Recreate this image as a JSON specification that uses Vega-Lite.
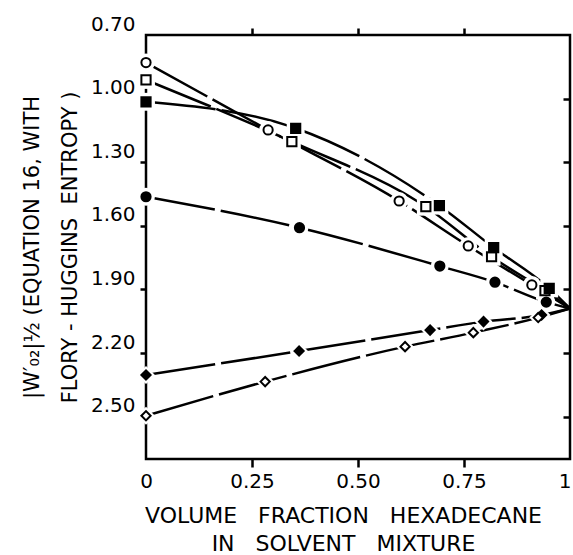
{
  "$schema": "https://vega.github.io/schema/vega-lite/v6.json",
  "width": 424,
  "height": 424,
  "autosize": {"type": "none"},
  "padding": {"left": 146, "top": 35, "right": 3, "bottom": 96},
  "background": "white",
  "config": {
    "view": {"stroke": "black", "strokeWidth": 2.5},
    "font": "DejaVu Sans",
    "axis": {"grid": false, "labelColor": "black", "tickColor": "black", "titleColor": "black", "titleFontWeight": "normal"}
  },
  "data": {
    "values": [
      {"s": "oc", "shape": "circle", "filled": "no", "m": true, "x": 0, "y": 0.83},
      {"s": "oc", "shape": "circle", "filled": "no", "m": true, "x": 0.288, "y": 1.148},
      {"s": "oc", "shape": "circle", "filled": "no", "m": true, "x": 0.597, "y": 1.483},
      {"s": "oc", "shape": "circle", "filled": "no", "m": true, "x": 0.76, "y": 1.695},
      {"s": "oc", "shape": "circle", "filled": "no", "m": true, "x": 0.91, "y": 1.879},
      {"s": "oc", "shape": "circle", "filled": "no", "m": false, "x": 1, "y": 1.99},
      {"s": "os", "shape": "square", "filled": "no", "m": true, "x": 0, "y": 0.912},
      {"s": "os", "shape": "square", "filled": "no", "m": true, "x": 0.344, "y": 1.203},
      {"s": "os", "shape": "square", "filled": "no", "m": true, "x": 0.66, "y": 1.51},
      {"s": "os", "shape": "square", "filled": "no", "m": true, "x": 0.815, "y": 1.746},
      {"s": "os", "shape": "square", "filled": "no", "m": true, "x": 0.941, "y": 1.906},
      {"s": "os", "shape": "square", "filled": "no", "m": false, "x": 1, "y": 1.99},
      {"s": "fs", "shape": "square", "filled": "yes", "m": true, "x": 0, "y": 1.015},
      {"s": "fs", "shape": "square", "filled": "yes", "m": true, "x": 0.353, "y": 1.14},
      {"s": "fs", "shape": "square", "filled": "yes", "m": true, "x": 0.692, "y": 1.505},
      {"s": "fs", "shape": "square", "filled": "yes", "m": true, "x": 0.82, "y": 1.703},
      {"s": "fs", "shape": "square", "filled": "yes", "m": true, "x": 0.951, "y": 1.895},
      {"s": "fs", "shape": "square", "filled": "yes", "m": false, "x": 1, "y": 1.99},
      {"s": "fc", "shape": "circle", "filled": "yes", "m": true, "x": 0, "y": 1.463},
      {"s": "fc", "shape": "circle", "filled": "yes", "m": true, "x": 0.362, "y": 1.609},
      {"s": "fc", "shape": "circle", "filled": "yes", "m": true, "x": 0.693, "y": 1.79},
      {"s": "fc", "shape": "circle", "filled": "yes", "m": true, "x": 0.823, "y": 1.866},
      {"s": "fc", "shape": "circle", "filled": "yes", "m": true, "x": 0.944, "y": 1.96},
      {"s": "fc", "shape": "circle", "filled": "yes", "m": false, "x": 1, "y": 1.99},
      {"s": "fd", "shape": "diamond", "filled": "yes", "m": true, "x": 0, "y": 2.304},
      {"s": "fd", "shape": "diamond", "filled": "yes", "m": true, "x": 0.361, "y": 2.191},
      {"s": "fd", "shape": "diamond", "filled": "yes", "m": true, "x": 0.67, "y": 2.092},
      {"s": "fd", "shape": "diamond", "filled": "yes", "m": true, "x": 0.796, "y": 2.052},
      {"s": "fd", "shape": "diamond", "filled": "yes", "m": true, "x": 0.933, "y": 2.021},
      {"s": "fd", "shape": "diamond", "filled": "yes", "m": false, "x": 1, "y": 1.99},
      {"s": "od", "shape": "diamond", "filled": "no", "m": true, "x": 0, "y": 2.496},
      {"s": "od", "shape": "diamond", "filled": "no", "m": true, "x": 0.281, "y": 2.335},
      {"s": "od", "shape": "diamond", "filled": "no", "m": true, "x": 0.611, "y": 2.17},
      {"s": "od", "shape": "diamond", "filled": "no", "m": true, "x": 0.772, "y": 2.104},
      {"s": "od", "shape": "diamond", "filled": "no", "m": true, "x": 0.925, "y": 2.033},
      {"s": "od", "shape": "diamond", "filled": "no", "m": false, "x": 1, "y": 1.99}
    ]
  },
  "layer": [
    {
      "mark": {"type": "line", "interpolate": "monotone", "stroke": "black", "strokeWidth": 2.5, "strokeDash": [70, 6]},
      "encoding": {
        "detail": {"field": "s", "type": "nominal"},
        "x": {
          "field": "x", "type": "quantitative",
          "scale": {"domain": [0, 1], "nice": false, "zero": false},
          "axis": {
            "orient": "bottom",
            "values": [0, 0.25, 0.5, 0.75, 1],
            "labelExpr": "datum.value == 0 ? '0' : datum.value == 1 ? '1' : format(datum.value, '.2f')",
            "domain": false,
            "tickSize": 8,
            "tickWidth": 2.5,
            "tickOpacity": {"condition": {"test": "datum.value == 0 || datum.value == 1", "value": 0}, "value": 1},
            "labelFontSize": 20,
            "labelPadding": 4,
            "labelFlush": false,
            "labelAlign": {"condition": {"test": "datum.value == 1", "value": "right"}, "value": "center"},
            "labelOffset": {"condition": {"test": "datum.value == 1", "value": 1}, "value": 0},
            "title": ["VOLUME\u00a0\u00a0\u00a0FRACTION\u00a0\u00a0\u00a0HEXADECANE", "IN\u00a0\u00a0\u00a0SOLVENT\u00a0\u00a0\u00a0MIXTURE"],
            "titleFontSize": 22,
            "titleX": 197,
            "titleY": 63,
            "titleAlign": "center",
            "titleBaseline": "alphabetic",
            "titleLineHeight": 28
          }
        },
        "y": {
          "field": "y", "type": "quantitative",
          "scale": {"domain": [0.7, 2.7], "reverse": true, "nice": false, "zero": false},
          "axis": {
            "orient": "left",
            "values": [0.7, 1.0, 1.3, 1.6, 1.9, 2.2, 2.5],
            "format": ".2f",
            "domain": false,
            "tickSize": 6,
            "tickWidth": 2.5,
            "tickOpacity": {"condition": {"test": "datum.value < 0.8", "value": 0}, "value": 1},
            "labelFontSize": 20,
            "labelOffset": -11,
            "labelPadding": 5,
            "labelFlush": false,
            "title": ["|W′₀₂|½ (EQUATION 16, WITH", "FLORY - HUGGINS\u00a0\u00a0ENTROPY )"],
            "titleFontSize": 21,
            "titleAngle": -90,
            "titleX": -114,
            "titleY": 212,
            "titleAlign": "center",
            "titleBaseline": "middle",
            "titleLineHeight": 38
          }
        }
      }
    },
    {
      "transform": [{"filter": "datum.m"}],
      "mark": {"type": "point", "filled": true, "fill": "white", "opacity": 1, "strokeWidth": 0},
      "encoding": {
        "x": {
          "field": "x", "type": "quantitative",
          "scale": {"domain": [0, 1], "nice": false, "zero": false},
          "axis": {"orient": "top", "values": [0.25, 0.5, 0.75], "labels": false, "domain": false, "tickSize": 7, "tickWidth": 2.5, "title": null}
        },
        "y": {
          "field": "y", "type": "quantitative",
          "scale": {"domain": [0.7, 2.7], "reverse": true, "nice": false, "zero": false},
          "axis": {"orient": "right", "values": [1.0, 1.3, 1.6, 1.9, 2.2, 2.5], "labels": false, "domain": false, "tickSize": -7, "tickWidth": 2.5, "title": null}
        },
        "shape": {"field": "shape", "type": "nominal", "scale": {"domain": ["circle", "square", "diamond"], "range": ["circle", "square", "diamond"]}, "legend": null},
        "size": {"field": "shape", "type": "nominal", "scale": {"domain": ["circle", "square", "diamond"], "range": [320, 320, 450]}, "legend": null}
      }
    },
    {
      "transform": [{"filter": "datum.m"}],
      "mark": {"type": "point", "filled": true, "stroke": "black", "strokeWidth": 2, "opacity": 1},
      "encoding": {
        "x": {"field": "x", "type": "quantitative", "scale": {"domain": [0, 1], "nice": false, "zero": false}, "axis": null},
        "y": {"field": "y", "type": "quantitative", "scale": {"domain": [0.7, 2.7], "reverse": true, "nice": false, "zero": false}, "axis": null},
        "shape": {"field": "shape", "type": "nominal", "scale": {"domain": ["circle", "square", "diamond"], "range": ["circle", "square", "diamond"]}, "legend": null},
        "fill": {"field": "filled", "type": "nominal", "scale": {"domain": ["yes", "no"], "range": ["black", "white"]}, "legend": null},
        "size": {"field": "shape", "type": "nominal", "scale": {"domain": ["circle", "square", "diamond"], "range": [85, 85, 150]}, "legend": null}
      }
    }
  ],
  "resolve": {"axis": {"x": "independent", "y": "independent"}, "scale": {"size": "independent"}}
}
